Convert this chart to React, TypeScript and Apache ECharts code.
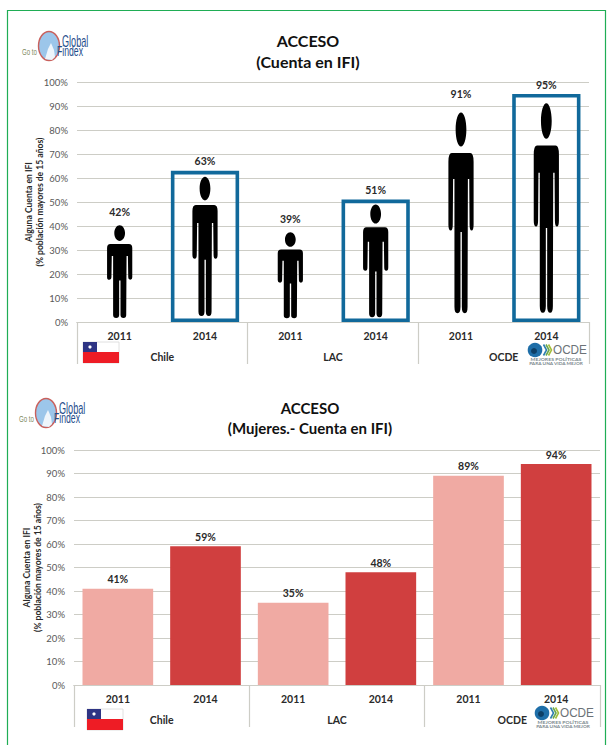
import React, { useEffect, useRef } from "react";
import * as echarts from "echarts";

const years = ["2011", "2014", "2011", "2014", "2011", "2014"];
const groups = ["Chile", "LAC", "OCDE"];
const percentTicks = [0, 10, 20, 30, 40, 50, 60, 70, 80, 90, 100];
const accessValues = [42, 63, 39, 51, 91, 95];
const accessBoxes = [null, 63, null, 51, null, 95];
const womenValues = [41, 59, 35, 48, 89, 94];
const title1 = "ACCESO\n(Cuenta en IFI)";
const title2 = "ACCESO\n(Mujeres.- Cuenta en IFI)";
const yName = "Alguna Cuenta en IFI\n(% población mayores de 15 años)";

const FONT = "Lato, 'Open Sans', sans-serif";
const GRID = "#cdcdc6";
const PERSON =
  "path://M37.5 0C46 0 53.5 10 53.5 23.5C53.5 37 46 47 37.5 47C29 47 21.5 37 21.5 23.5C21.5 10 29 0 37.5 0Z" +
  "M10 56L65 56Q75 56 75 68L75 155Q75 163 69 163Q63 163 63 155L62 92L58 92L57 268Q57 277 49 277Q40 277 40 268L40 165L36 165L36 268Q36 277 27 277Q18 277 18 268L18 92L14 92L13 155Q13 163 7 163Q0 163 0 155L0 68Q0 56 10 56Z";

function axes(gridIndex: number, nameGap: number) {
  const yearAxis = {
    type: "category",
    gridIndex,
    data: years,
    axisLine: { lineStyle: { color: GRID, width: 1.2 } },
    axisTick: { show: false },
    axisLabel: { color: "#2a2a2a", fontFamily: FONT, fontWeight: "bold", fontSize: 10.5, margin: 8 },
  };
  const groupAxis = {
    type: "category",
    gridIndex,
    position: "bottom",
    data: groups,
    axisLine: { lineStyle: { color: GRID, width: 1.2 } },
    axisTick: { show: true, length: 42, lineStyle: { color: GRID, width: 1.2 } },
    axisLabel: { color: "#2a2a2a", fontFamily: FONT, fontWeight: "bold", fontSize: 10.5, margin: 29 },
  };
  const valueAxis = {
    type: "value",
    gridIndex,
    min: 0,
    max: 100,
    interval: 10,
    name: yName,
    nameLocation: "middle",
    nameGap,
    nameMoveOverlap: false,
    nameTextStyle: { color: "#2a2a2a", fontFamily: FONT, fontWeight: "bold", fontSize: 8.6, lineHeight: 11 },
    axisLine: { show: false },
    axisTick: { show: false },
    axisLabel: {
      color: "#595959",
      fontFamily: FONT,
      fontSize: 9.5,
      margin: 9,
      formatter: (v: number) => (percentTicks.includes(v) ? `${v}%` : ""),
    },
    splitLine: { lineStyle: { color: GRID, width: 1.2 } },
  };
  return { yearAxis, groupAxis, valueAxis };
}

const labelStyle = {
  show: true,
  position: "top",
  distance: 4,
  color: "#2a2a2a",
  fontFamily: FONT,
  fontWeight: "bold",
  fontSize: 10.5,
  formatter: "{c}%",
};

function findexLogo(x: number, y: number) {
  const t = (text: string, dx: number, dy: number, size: number, color: string, sx: number) => ({
    type: "text",
    x: x + dx,
    y: y + dy,
    scaleX: sx,
    style: { text, fill: color, fontFamily: "'Liberation Sans', sans-serif", fontSize: size, textVerticalAlign: "middle" },
  });
  return [
    t("Go to", 1, 7, 9, "#7f8a5e", 0.68),
    { type: "ellipse", shape: { cx: x + 28, cy: y + 1, rx: 10.5, ry: 14.5 }, style: { fill: "#9cc6ea", stroke: "#c9605c", lineWidth: 1.4 } },
    { type: "polygon", shape: { points: [[x + 24, y + 14], [x + 27, y + 4], [x + 30, y - 2], [x + 33, y + 5], [x + 34, y + 12], [x + 31, y + 15]] }, style: { fill: "#eef5fb" } },
    t("Global", 41, -4, 16, "#1f4e8c", 0.57),
    t("Findex", 36, 6, 14, "#1f4e8c", 0.62),
  ];
}

function flag(x: number, y: number) {
  return [
    { type: "rect", shape: { x, y, width: 36, height: 21 }, style: { fill: "#fff", stroke: "#d8d8d8", lineWidth: 0.8 } },
    { type: "rect", shape: { x, y, width: 14, height: 10 }, style: { fill: "#2e3484" } },
    { type: "rect", shape: { x, y: y + 10, width: 36, height: 11 }, style: { fill: "#ee1c25" } },
    { type: "circle", shape: { cx: x + 7, cy: y + 5, r: 1.6 }, style: { fill: "#fff" } },
  ];
}

function oecdLogo(x: number, y: number) {
  const chevron = (dx: number, color: string) => ({
    type: "polyline",
    shape: { points: [[x + dx, y - 5.5], [x + dx + 3, y], [x + dx, y + 5.5]] },
    style: { stroke: color, lineWidth: 1.6, fill: "none" },
  });
  const tiny = (text: string, dy: number, sx: number) => ({
    type: "text",
    x: x + 21,
    y: y + dy,
    scaleX: sx,
    style: { text, fill: "#7d8a8f", fontFamily: FONT, fontSize: 4, fontWeight: "bold", textAlign: "center", textVerticalAlign: "middle" },
  });
  return [
    { type: "circle", shape: { cx: x, cy: y, r: 7.3 }, style: { fill: "#1e6ea8" } },
    { type: "circle", shape: { cx: x - 1, cy: y + 1, r: 3 }, style: { fill: "#0d3f66" } },
    chevron(8.5, "#2f7fb0"),
    chevron(11, "#6aa84f"),
    chevron(13.5, "#a3bf3c"),
    {
      type: "text",
      x: x + 18,
      y,
      scaleX: 0.87,
      style: { text: "OCDE", fill: "#6b7277", fontFamily: "'Liberation Sans', sans-serif", fontSize: 13.5, textVerticalAlign: "middle" },
    },
    tiny("MEJORES POLÍTICAS", 9, 1.3),
    tiny("PARA UNA VIDA MEJOR", 13.5, 1.2),
  ];
}

export default function App() {
  const ref = useRef<HTMLDivElement>(null);

  useEffect(() => {
    if (!ref.current) return;
    const chart = echarts.init(ref.current, undefined, { renderer: "svg" });
    const a = axes(0, 32);
    const b = axes(1, 31);
    chart.setOption({
      animation: false,
      backgroundColor: "#fff",
      title: [
        {
          text: title1,
          left: 303,
          top: 25,
          textAlign: "center",
          textStyle: { color: "#111", fontFamily: FONT, fontWeight: "bold", fontSize: 16, lineHeight: 21 },
        },
        {
          text: title2,
          left: 305,
          top: 393,
          textAlign: "center",
          textStyle: { color: "#111", fontFamily: FONT, fontWeight: "bold", fontSize: 15, lineHeight: 20 },
        },
      ],
      grid: [
        { left: 77, right: 22, top: 82, height: 240 },
        { left: 74, right: 11, top: 450, height: 235 },
      ],
      xAxis: [a.yearAxis, a.groupAxis, b.yearAxis, b.groupAxis].map((ax, i) => ({ ...ax, id: `x${i}` })),
      yAxis: [a.valueAxis, b.valueAxis],
      series: [
        {
          name: "Etiquetas acceso",
          type: "bar",
          xAxisIndex: 0,
          yAxisIndex: 0,
          data: accessValues,
          barWidth: "80%",
          barGap: "-100%",
          itemStyle: { color: "transparent" },
          label: labelStyle,
          silent: true,
        },
        {
          name: "Acceso 2014",
          type: "bar",
          xAxisIndex: 0,
          yAxisIndex: 0,
          data: accessBoxes,
          barWidth: "80%",
          barGap: "-100%",
          itemStyle: { color: "transparent", borderColor: "#11699b", borderWidth: 3.6 },
        },
        {
          name: "Acceso",
          type: "pictorialBar",
          xAxisIndex: 0,
          yAxisIndex: 0,
          data: accessValues,
          symbol: PERSON,
          symbolSize: [25, "92%"],
          symbolPosition: "center",
          symbolRepeat: false,
          itemStyle: { color: "#000" },
          z: 4,
        },
        {
          name: "Mujeres",
          type: "bar",
          xAxisIndex: 2,
          yAxisIndex: 1,
          barCategoryGap: "19.4%",
          data: womenValues.map((value, i) => ({
            value,
            itemStyle: { color: i % 2 === 0 ? "#f0aaa3" : "#d03f3f" },
          })),
          label: labelStyle,
        },
      ],
      graphic: [
        {
          type: "rect",
          shape: { x: 7.5, y: 10.5, width: 598, height: 760 },
          style: { fill: "none", stroke: "#1fad55", lineWidth: 1.2 },
          z: 10,
        },
        ...findexLogo(21, 45),
        ...findexLogo(18, 412),
        ...flag(83, 342),
        ...flag(87, 709),
        ...oecdLogo(535, 350),
        ...oecdLogo(542, 713),
      ],
    });
    return () => chart.dispose();
  }, []);

  return <div ref={ref} style={{ position: "absolute", left: 0, top: 0, width: 611, height: 745 }} />;
}
